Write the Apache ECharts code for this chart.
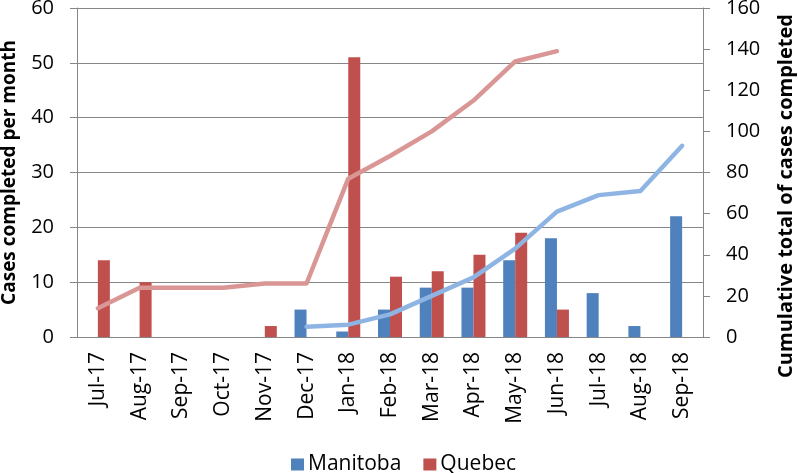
<!DOCTYPE html>
<html><head><meta charset="utf-8">
<script src="https://cdn.jsdelivr.net/npm/echarts@6/dist/echarts.min.js"></script>
<style>html,body{margin:0;padding:0;background:#fff}#c{width:798px;height:473px}</style>
</head><body><div id="c"></div>
<script>
var categories = ['Jul-17','Aug-17','Sep-17','Oct-17','Nov-17','Dec-17','Jan-18','Feb-18','Mar-18','Apr-18','May-18','Jun-18','Jul-18','Aug-18','Sep-18'];
var manitobaMonthly = [null,null,null,null,null,5,1,5,9,9,14,18,8,2,22];
var quebecMonthly = [14,10,null,null,2,null,51,11,12,15,19,5,null,null,null];
var manitobaCumulative = [null,null,null,null,null,5,6,11,20,29,43,61,69,71,93];
var quebecCumulative = [14,24,24,24,26,26,77,88,100,115,134,139,null,null,null];
var leftTicks = [0,10,20,30,40,50,60];
var rightTicks = [0,20,40,60,80,100,120,140,160];
var leftTitle = 'Cases completed per month';
var rightTitle = 'Cumulative total of cases completed';

var FONT = 'Open Sans';
var chart = echarts.init(document.getElementById('c'));
chart.setOption({
  animation: false,
  textStyle: {fontFamily: FONT},
  grid: {left: 77, right: 95, top: 8, bottom: 136, containLabel: false, outerBoundsMode: 'none'},
  legend: {
    data: ['Manitoba','Quebec'], top: 449, left: 286,
    itemWidth: 13, itemHeight: 12, itemGap: 22, icon: 'rect',
    textStyle: {fontFamily: FONT, fontSize: 21, color: '#000', padding: [0, 0, 0, -1]}
  },
  graphic: [{
    type: 'text', x: 786, y: 196, rotation: Math.PI / 2,
    style: {text: rightTitle, fontFamily: FONT, fontSize: 20, fontWeight: 'bold', fill: '#000',
            align: 'center', verticalAlign: 'middle'}
  }],
  xAxis: {
    type: 'category', data: categories, boundaryGap: true,
    axisLine: {lineStyle: {color: '#868686'}},
    axisTick: {interval: 0, length: 7, lineStyle: {color: '#868686'}},
    axisLabel: {interval: 0, rotate: 90, margin: 15, fontSize: 21, color: '#000', fontFamily: FONT}
  },
  yAxis: [{
    type: 'value', min: leftTicks[0], max: leftTicks[leftTicks.length-1], interval: 10,
    name: leftTitle, nameLocation: 'middle', nameGap: 58,
    nameTextStyle: {fontSize: 19, fontWeight: 'bold', color: '#000', fontFamily: FONT},
    axisLine: {show: true, lineStyle: {color: '#868686'}},
    axisTick: {show: true, length: 7, lineStyle: {color: '#868686'}},
    axisLabel: {fontSize: 20, color: '#000', margin: 23, fontFamily: FONT},
    splitLine: {lineStyle: {color: '#868686'}}
  },{
    type: 'value', min: rightTicks[0], max: rightTicks[rightTicks.length-1], interval: 20,
    axisLine: {show: true, lineStyle: {color: '#868686'}},
    axisTick: {show: true, length: 7, lineStyle: {color: '#868686'}},
    axisLabel: {fontSize: 20, color: '#000', margin: 23, fontFamily: FONT},
    splitLine: {show: false}
  }],
  series: [
    {name: 'Manitoba', type: 'bar', data: manitobaMonthly, barWidth: 12, barGap: '0%', itemStyle: {color: '#4F81BD'}, z: 2},
    {name: 'Quebec', type: 'bar', data: quebecMonthly, barWidth: 12, barGap: '0%', itemStyle: {color: '#C0504D'}, z: 2},
    {name: 'Manitoba total', type: 'line', yAxisIndex: 1, data: manitobaCumulative, showSymbol: false, symbol: 'none',
     lineStyle: {color: '#8EB4E3', width: 4.5, cap: 'round', join: 'round'}, z: 3},
    {name: 'Quebec total', type: 'line', yAxisIndex: 1, data: quebecCumulative, showSymbol: false, symbol: 'none',
     lineStyle: {color: '#D99694', width: 4.5, cap: 'round', join: 'round'}, z: 3}
  ]
});
</script></body></html>
